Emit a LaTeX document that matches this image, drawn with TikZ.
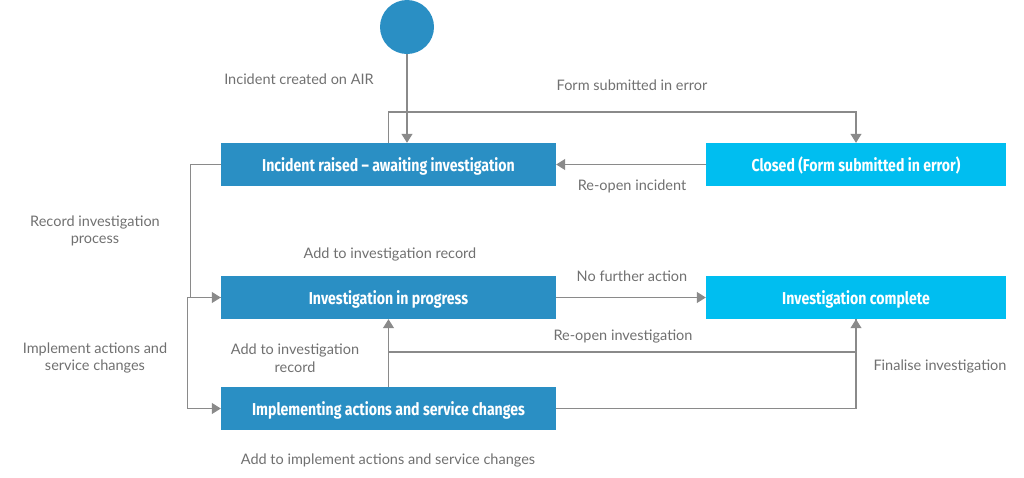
\documentclass[tikz,border=0pt]{standalone}
\usepackage{fontspec}
\setmainfont{Lato}
\newfontfamily\boxfont[FakeStretch=0.82]{Fira Sans}
\usetikzlibrary{arrows.meta}
\definecolor{dblue}{HTML}{2A8FC4}
\definecolor{lblue}{HTML}{00BEF0}
\definecolor{lgray}{HTML}{8A8A8A}
\definecolor{tgray}{HTML}{707070}
\tikzset{
  state/.style={rectangle, minimum width=335pt, minimum height=43pt, inner sep=0pt, text depth=0pt, text=white, font=\boxfont\bfseries\fontsize{17.2}{19}\selectfont},
  darkstate/.style={state, fill=dblue},
  lightstate/.style={state, fill=lblue, minimum width=300pt},
  lbl/.style={text=tgray, font=\fontsize{14.5}{17.5}\selectfont, align=center, inner sep=0pt},
  conn/.style={draw=lgray, line width=1.1pt},
  arr/.style={conn, -{Triangle[width=11pt,length=9pt]}}
}
\begin{document}
\begin{tikzpicture}[x=1pt,y=-1pt]
\useasboundingbox (0,0) rectangle (1024,477);
\node[circle, fill=dblue, minimum size=54pt, inner sep=0pt] (start) at (407,27) {};
\node[darkstate] (b1) at (388.5,164.5) {Incident raised – awaiting investigation};
\node[lightstate] (b2) at (856,164.5) {Closed (Form submitted in error)};
\node[darkstate] (b3) at (388.5,297.5) {Investigation in progress};
\node[lightstate] (b4) at (856,297.5) {Investigation complete};
\node[darkstate] (b5) at (388.5,408.5) {Implementing actions and service changes};

\coordinate (top) at (0,112);
\coordinate (mid) at (0,352);
\draw[arr] (start) -- (start |- b1.north);
\draw[arr] (b1.north) -- (b1.north |- top) -| (b2.north);
\draw[arr] (b2.west) -- (b1.east);
\draw[arr] (b1.west) -- ++(-30,0) |- (b3.west);
\draw[arr] (b3.west) -- ++(-33,0) |- (b5.west);
\draw[arr] (b3.east) -- (b4.west);
\draw[conn] (b4.south) |- (b5.north |- mid);
\draw[arr] (b5.north) -- (b3.south);
\draw[arr] (b5.east) -| (b4.south);

\node[lbl] (l1) at (299,79) {Incident created on AIR};
\node[lbl] (l2) at (632,85) {Form submitted in error};
\node[lbl] (l3) at (632,186) {Re-open incident};
\node[lbl] (l4) at (95,231) {Record investigation\\process};
\node[lbl] (l5) at (390,254) {Add to investigation record};
\node[lbl] (l6) at (632,276) {No further action};
\node[lbl] (l7) at (623,337) {Re-open investigation};
\node[lbl] (l8) at (95,358) {Implement actions and\\service changes};
\node[lbl] (l9) at (295,358) {Add to investigation\\record};
\node[lbl] (l10) at (940,366) {Finalise investigation};
\node[lbl] (l11) at (388,460) {Add to implement actions and service changes};
\end{tikzpicture}
\end{document}
